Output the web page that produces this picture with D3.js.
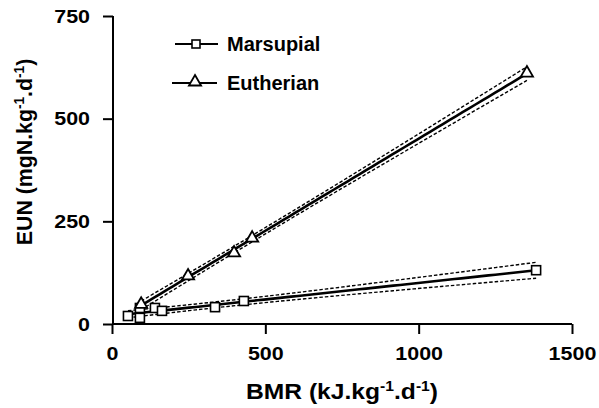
<!DOCTYPE html>
<html>
<head>
<meta charset="utf-8">
<script src="https://cdn.jsdelivr.net/npm/d3@7"></script>
<style>
  html, body { margin: 0; padding: 0; background: #fff; }
  svg { display: block; font-family: "Liberation Sans", Arial, sans-serif; font-weight: bold; }
</style>
</head>
<body>
<svg id="chart" width="599" height="408"></svg>
<script>
// Basal metabolic rate (kJ/kg/d) vs endogenous urinary nitrogen (mgN/kg/d)
const marsupialBMR = [52, 91, 91, 140, 163, 336, 430, 1383];
const marsupialEUN = [19.5, 39, 15, 39, 32, 41, 56, 131];
const eutherianBMR = [95, 248, 398, 457, 1353];
const eutherianEUN = [48, 117, 173, 209, 611];
const xTicks = [0, 500, 1000, 1500];
const yTicks = [0, 250, 500, 750];
const seriesNames = ["Marsupial", "Eutherian"];
// two-tailed 95% t values by degrees of freedom
const tCrit = {3: 3.182, 6: 2.447};

const svg = d3.select("#chart");
const x = d3.scaleLinear().domain([0, 1500]).range([112, 572]);
const y = d3.scaleLinear().domain([0, 750]).range([324, 16]);

// least-squares fit with 95% confidence band of the mean
function fit(xs, ys) {
  const n = xs.length;
  const mx = d3.mean(xs), my = d3.mean(ys);
  let sxx = 0, sxy = 0;
  xs.forEach((v, i) => { sxx += (v - mx) ** 2; sxy += (v - mx) * (ys[i] - my); });
  const b = sxy / sxx, a = my - b * mx;
  let sse = 0;
  xs.forEach((v, i) => { sse += (ys[i] - (a + b * v)) ** 2; });
  const s = Math.sqrt(sse / (n - 2));
  const t = tCrit[n - 2];
  const lo = d3.min(xs), hi = d3.max(xs);
  return d3.range(0, 61).map(k => {
    const xv = lo + (hi - lo) * k / 60;
    const yv = a + b * xv;
    const h = t * s * Math.sqrt(1 / n + (xv - mx) ** 2 / sxx);
    return {x: xv, y: yv, lo: yv - h, hi: yv + h};
  });
}

function drawFit(pts) {
  const g = svg.append("g");
  const mk = key => d3.line().x(d => x(d.x)).y(d => y(d[key]));
  ["lo", "hi"].forEach(k => g.append("path").attr("d", mk(k)(pts))
    .attr("fill", "none").attr("stroke", "#000").attr("stroke-width", 1.4)
    .attr("stroke-dasharray", "3.5,2"));
  g.append("path").attr("d", mk("y")(pts))
    .attr("fill", "none").attr("stroke", "#000").attr("stroke-width", 2.6);
}

drawFit(fit(marsupialBMR, marsupialEUN));
drawFit(fit(eutherianBMR, eutherianEUN));

// axes
const xAxis = d3.axisBottom(x).tickValues(xTicks).tickSize(10).tickFormat(d3.format("d"));
const yAxis = d3.axisLeft(y).tickValues(yTicks).tickSize(10).tickFormat(d3.format("d"));
const gx = svg.append("g").attr("transform", "translate(0,324)").call(xAxis);
const gy = svg.append("g").attr("transform", "translate(113,0)").call(yAxis);
[gx, gy].forEach(g => {
  g.select(".domain").attr("stroke-width", 2).attr("stroke", "#000");
  g.selectAll(".tick line").attr("stroke-width", 2).attr("stroke", "#000");
  g.selectAll(".tick text").attr("fill", "#000").attr("font-size", 19)
    .attr("font-family", "Liberation Sans, Arial, sans-serif").attr("font-weight", "bold");
});
gx.select(".domain").attr("d", "M112,0H572");
gy.select(".domain").attr("d", "M0,16V324");
const stretch = 1.13;
gx.selectAll(".tick text").attr("y", 0).attr("dy", 0)
  .attr("transform", `translate(0,36) scale(${stretch},1)`);
gy.selectAll(".tick text").attr("x", 0)
  .attr("transform", `translate(-23,0) scale(${stretch},1)`);

// markers
const sq = 9;
svg.append("g").selectAll("rect").data(marsupialBMR.map((v, i) => [v, marsupialEUN[i]]))
  .join("rect")
  .attr("x", d => x(d[0]) - sq / 2).attr("y", d => y(d[1]) - sq / 2)
  .attr("width", sq).attr("height", sq)
  .attr("fill", "#fff").attr("stroke", "#000").attr("stroke-width", 1.6);

const tri = d3.symbol().type(d3.symbolTriangle).size(64);
svg.append("g").selectAll("path").data(eutherianBMR.map((v, i) => [v, eutherianEUN[i]]))
  .join("path")
  .attr("d", tri)
  .attr("transform", d => `translate(${x(d[0])},${y(d[1])})`)
  .attr("fill", "#fff").attr("stroke", "#000").attr("stroke-width", 1.8);

// legend
const leg = svg.append("g");
const legRows = [{y: 44, x0: 175, x1: 218}, {y: 83, x0: 172, x1: 217}];
legRows.forEach((r, i) => {
  leg.append("line").attr("x1", r.x0).attr("x2", r.x1).attr("y1", r.y).attr("y2", r.y)
    .attr("stroke", "#000").attr("stroke-width", 2.2);
  if (i === 0) {
    leg.append("rect").attr("x", 196 - 4).attr("y", r.y - 4).attr("width", 8).attr("height", 8)
      .attr("fill", "#fff").attr("stroke", "#000").attr("stroke-width", 1.6);
  } else {
    leg.append("path").attr("d", tri).attr("transform", `translate(195,${r.y - 1})`)
      .attr("fill", "#fff").attr("stroke", "#000").attr("stroke-width", 1.8);
  }
  leg.append("text").attr("x", 227).attr("y", r.y + 7).attr("font-size", 20)
    .text(seriesNames[i]);
});

// axis titles
function titleParts(t, main) {
  t.append("tspan").text(main);
  t.append("tspan").attr("dy", -8).attr("font-size", 14).text("-1");
  t.append("tspan").attr("dy", 8).text(".d");
  t.append("tspan").attr("dy", -8).attr("font-size", 14).text("-1");
  t.append("tspan").attr("dy", 8).text(")");
}
const xt = svg.append("text").attr("transform", "translate(342,399) scale(1.12,1)")
  .attr("text-anchor", "middle").attr("font-size", 22);
titleParts(xt, "BMR (kJ.kg");

const yt = svg.append("text").attr("transform", "translate(32,152) rotate(-90) scale(0.97,1)")
  .attr("text-anchor", "middle").attr("font-size", 22);
titleParts(yt, "EUN (mgN.kg");
</script>
</body>
</html>
